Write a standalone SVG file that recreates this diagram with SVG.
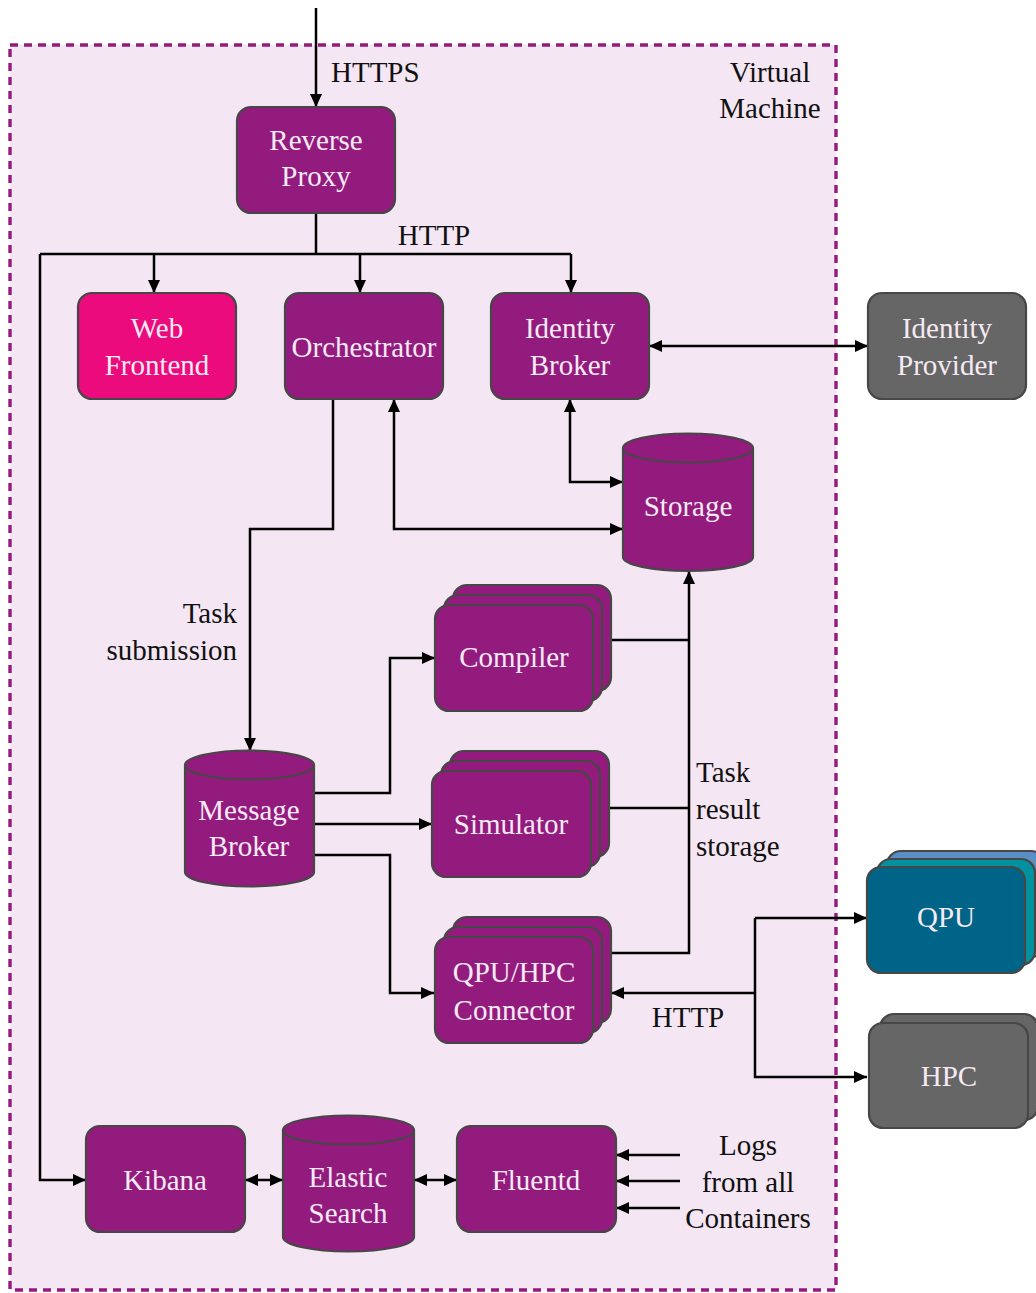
<svg xmlns="http://www.w3.org/2000/svg" width="1036" height="1293" viewBox="0 0 1036 1293">
<defs>
<marker id="ah" viewBox="0 0 13 13" refX="13" refY="6.5" markerWidth="13" markerHeight="13" markerUnits="userSpaceOnUse" orient="auto-start-reverse">
<path d="M0,0.5 L13,6.5 L0,12.5 z" fill="#000"/>
</marker>
<style>
.nd{fill:#941b7e;stroke:#474747;stroke-width:2.2}
.gr{fill:#666666;stroke:#474747;stroke-width:2.2}
.wt{fill:#f6eaf4;font-size:29px;text-anchor:middle}
.bk{fill:#111;font-size:29px}
.c{fill:none;stroke:#000;stroke-width:2.5}
.a{marker-end:url(#ah)}
.b{marker-start:url(#ah);marker-end:url(#ah)}
</style>
</defs>
<rect width="1036" height="1293" fill="#fff"/>
<g id="vm">
<rect x="10" y="45" width="826" height="1245" fill="#f4e6f3" stroke="#941b7e" stroke-width="3.4" stroke-dasharray="8,6"/>
<g font-family="Liberation Serif">
<text class="bk" x="770" y="82" text-anchor="middle">Virtual</text>
<text class="bk" x="770" y="118" text-anchor="middle">Machine</text>
</g>
</g>
<g id="connectors">
<path class="c a" d="M316,8 V107"/>
<path class="c" d="M316,213 V254 M40,254 H571"/>
<path class="c a" d="M154,254 V293"/>
<path class="c a" d="M360,254 V293"/>
<path class="c a" d="M571,254 V293"/>
<path class="c a" d="M40,254 V1180 H86"/>
<path class="c b" d="M649,346 H868"/>
<path class="c b" d="M570,399 V482 H623"/>
<path class="c b" d="M394,399 V529 H623"/>
<path class="c a" d="M333,399 V529 H250 V751"/>
<path class="c a" d="M314,793 H390 V658 H435"/>
<path class="c a" d="M314,824 H432"/>
<path class="c a" d="M314,855 H390 V993 H434"/>
<path class="c" d="M611,640 H689 M609,808 H689"/>
<path class="c a" d="M611,953 H689 V571"/>
<path class="c a" d="M755,993 H611"/>
<path class="c a" d="M755,918 H867"/>
<path class="c a" d="M755,918 V1077 H867"/>
<path class="c b" d="M245,1180 H283"/>
<path class="c b" d="M414,1180 H457"/>
<path class="c a" d="M680,1155 H616"/>
<path class="c a" d="M680,1181 H616"/>
<path class="c a" d="M680,1208 H616"/>
<g font-family="Liberation Serif">
<text class="bk" x="331" y="82">HTTPS</text>
<text class="bk" x="434" y="245" text-anchor="middle">HTTP</text>
<text class="bk" x="237" y="623" text-anchor="end">Task</text>
<text class="bk" x="237" y="660" text-anchor="end">submission</text>
<text class="bk" x="696" y="782">Task</text>
<text class="bk" x="696" y="819">result</text>
<text class="bk" x="696" y="856">storage</text>
<text class="bk" x="688" y="1027" text-anchor="middle">HTTP</text>
<text class="bk" x="748" y="1155" text-anchor="middle">Logs</text>
<text class="bk" x="748" y="1192" text-anchor="middle">from all</text>
<text class="bk" x="748" y="1228" text-anchor="middle">Containers</text>
</g>
</g>
<g id="reverse-proxy" font-family="Liberation Serif">
<rect class="nd" x="237" y="107" width="158" height="106" rx="14"/>
<text class="wt" x="316" y="150">Reverse</text>
<text class="wt" x="316" y="186">Proxy</text>
</g>
<g id="web-frontend" font-family="Liberation Serif">
<rect x="78" y="293" width="158" height="106" rx="14" fill="#ec0b7c" stroke="#474747" stroke-width="2.2"/>
<text class="wt" x="157" y="338">Web</text>
<text class="wt" x="157" y="375">Frontend</text>
</g>
<g id="orchestrator" font-family="Liberation Serif">
<rect class="nd" x="285" y="293" width="158" height="106" rx="14"/>
<text class="wt" x="364" y="357">Orchestrator</text>
</g>
<g id="identity-broker" font-family="Liberation Serif">
<rect class="nd" x="491" y="293" width="158" height="106" rx="14"/>
<text class="wt" x="570" y="338">Identity</text>
<text class="wt" x="570" y="375">Broker</text>
</g>
<g id="identity-provider" font-family="Liberation Serif">
<rect class="gr" x="868" y="293" width="158" height="106" rx="14"/>
<text class="wt" x="947" y="338">Identity</text>
<text class="wt" x="947" y="375">Provider</text>
</g>
<g id="storage" font-family="Liberation Serif">
<path class="nd" d="M623,448 A65,14.5 0 0 1 753,448 L753,557 A65,14 0 0 1 623,557 Z"/>
<path d="M623,448 A65,14.5 0 0 0 753,448" fill="none" stroke="#474747" stroke-width="2.2"/>
<text class="wt" x="688" y="516">Storage</text>
</g>
<g id="compiler" font-family="Liberation Serif">
<rect class="nd" x="453" y="585" width="158" height="106" rx="14"/>
<rect class="nd" x="444" y="595" width="158" height="106" rx="14"/>
<rect class="nd" x="435" y="605" width="158" height="106" rx="14"/>
<text class="wt" x="514" y="667">Compiler</text>
</g>
<g id="simulator" font-family="Liberation Serif">
<rect class="nd" x="450" y="751" width="159" height="106" rx="14"/>
<rect class="nd" x="441" y="761" width="159" height="106" rx="14"/>
<rect class="nd" x="432" y="771" width="159" height="106" rx="14"/>
<text class="wt" x="511" y="834">Simulator</text>
</g>
<g id="qpu-hpc-connector" font-family="Liberation Serif">
<rect class="nd" x="453" y="917" width="158" height="106" rx="14"/>
<rect class="nd" x="444" y="927" width="158" height="106" rx="14"/>
<rect class="nd" x="435" y="937" width="158" height="106" rx="14"/>
<text class="wt" x="514" y="982">QPU/HPC</text>
<text class="wt" x="514" y="1020">Connector</text>
</g>
<g id="message-broker" font-family="Liberation Serif">
<path class="nd" d="M185,765 A64.5,14.5 0 0 1 314,765 L314,872 A64.5,14.5 0 0 1 185,872 Z"/>
<path d="M185,765 A64.5,14.5 0 0 0 314,765" fill="none" stroke="#474747" stroke-width="2.2"/>
<text class="wt" x="249" y="820">Message</text>
<text class="wt" x="249" y="856">Broker</text>
</g>
<g id="qpu" font-family="Liberation Serif">
<rect x="887" y="851" width="158" height="106" rx="14" fill="#5a8fc6" stroke="#474747" stroke-width="2.2"/>
<rect x="877" y="859" width="158" height="106" rx="14" fill="#00929f" stroke="#474747" stroke-width="2.2"/>
<rect x="867" y="867" width="158" height="106" rx="14" fill="#006489" stroke="#474747" stroke-width="2.2"/>
<text class="wt" x="946" y="927">QPU</text>
</g>
<g id="hpc" font-family="Liberation Serif">
<rect class="gr" x="880" y="1014" width="158" height="106" rx="14"/>
<rect class="gr" x="869" y="1023" width="159" height="105" rx="14"/>
<text class="wt" x="949" y="1086">HPC</text>
</g>
<g id="kibana" font-family="Liberation Serif">
<rect class="nd" x="86" y="1126" width="159" height="106" rx="14"/>
<text class="wt" x="165" y="1190">Kibana</text>
</g>
<g id="elastic-search" font-family="Liberation Serif">
<path class="nd" d="M283,1130 A65.5,14.5 0 0 1 414,1130 L414,1237 A65.5,14.5 0 0 1 283,1237 Z"/>
<path d="M283,1130 A65.5,14.5 0 0 0 414,1130" fill="none" stroke="#474747" stroke-width="2.2"/>
<text class="wt" x="348" y="1187">Elastic</text>
<text class="wt" x="348" y="1223">Search</text>
</g>
<g id="fluentd" font-family="Liberation Serif">
<rect class="nd" x="457" y="1126" width="159" height="106" rx="14"/>
<text class="wt" x="536" y="1190">Fluentd</text>
</g>
</svg>
